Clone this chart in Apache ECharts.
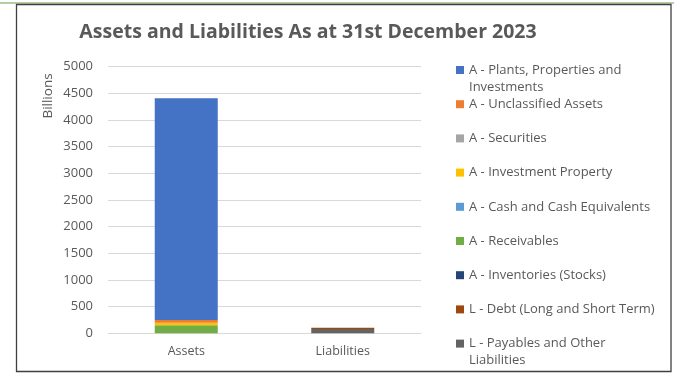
<!DOCTYPE html>
<html>
<head>
<meta charset="utf-8">
<script src="https://cdn.jsdelivr.net/npm/echarts@6/dist/echarts.min.js"></script>
<style>
  html, body { margin: 0; padding: 0; background: #ffffff; }
  #chart { width: 674px; height: 392px; }
</style>
</head>
<body>
<div id="chart"></div>
<script>
// Balance sheet categories
const categories = ['Assets', 'Liabilities'];

// Series names in legend order (top to bottom)
const seriesNames = [
  'A - Plants, Properties and Investments',
  'A - Unclassified Assets',
  'A - Securities',
  'A - Investment Property',
  'A - Cash and Cash Equivalents',
  'A - Receivables',
  'A - Inventories (Stocks)',
  'L - Debt (Long and Short Term)',
  'L - Payables and Other Liabilities'
];

// Values in billions: [Assets, Liabilities]
const plantsProperties = [4160, 0];
const unclassifiedAssets = [52, 0];
const securities = [0, 0];
const investmentProperty = [48, 0];
const cashEquivalents = [0, 0];
const receivables = [150, 0];
const inventories = [0, 0];
const debt = [0, 25];
const payables = [0, 80];

// Y axis ticks
const yMin = 0;
const yMax = 5000;
const yStep = 500;

const seriesValues = [
  plantsProperties, unclassifiedAssets, securities, investmentProperty,
  cashEquivalents, receivables, inventories, debt, payables
];

const palette = [
  '#4472C4', '#ED7D31', '#A5A5A5', '#FFC000', '#5B9BD5',
  '#70AD47', '#264478', '#9E480E', '#636363'
];

// Long legend labels: first line shown by the legend, the rest continues below
const wrapped = {
  'A - Plants, Properties and Investments': ['A - Plants, Properties and', 'Investments'],
  'L - Payables and Other Liabilities': ['L - Payables and Other', 'Liabilities']
};

const textColor = '#595959';
const fontFamily = '"Open Sans", Lato, sans-serif';

// Legend geometry
const legendLeft = 456;
const legendTop = 61.5;
const legendRow = 17;
const legendGap = 17.2;
const legendFont = 13;

// Stack from the last legend entry upward, so the first entry sits on top
const series = [];
for (let i = seriesNames.length - 1; i >= 0; i--) {
  series.push({
    name: seriesNames[i],
    type: 'bar',
    stack: 'total',
    barWidth: 63,
    itemStyle: { color: palette[i] },
    data: seriesValues[i]
  });
}

// Continuation lines of wrapped legend labels
const continuation = [];
seriesNames.forEach(function (name, i) {
  if (wrapped[name]) {
    const firstCenter = legendTop + legendRow / 2 + i * (legendRow + legendGap);
    continuation.push({
      type: 'text',
      x: legendLeft + 13,
      y: firstCenter + legendRow,
      style: {
        text: wrapped[name][1],
        fill: textColor,
        font: legendFont + 'px ' + fontFamily,
        align: 'left',
        verticalAlign: 'middle'
      },
      silent: true
    });
  }
});

const chart = echarts.init(document.getElementById('chart'), null, { renderer: 'canvas' });

chart.setOption({
  backgroundColor: '#ffffff',
  animation: false,
  textStyle: { fontFamily: fontFamily },
  title: {
    text: 'Assets and Liabilities As at 31st December 2023',
    left: 303,
    top: 17,
    textAlign: 'center',
    textStyle: {
      color: textColor,
      fontFamily: fontFamily,
      fontSize: 19.5,
      fontWeight: 'bold'
    }
  },
  legend: {
    orient: 'vertical',
    left: legendLeft,
    top: legendTop,
    padding: 0,
    itemGap: legendGap,
    itemWidth: 8,
    itemHeight: 8,
    icon: 'rect',
    data: seriesNames,
    formatter: function (name) { return wrapped[name] ? wrapped[name][0] : name; },
    textStyle: {
      color: textColor,
      fontFamily: fontFamily,
      fontSize: legendFont,
      lineHeight: legendRow
    }
  },
  grid: {
    left: 108,
    right: 253,
    top: 66.7,
    bottom: 58.7
  },
  xAxis: {
    type: 'category',
    data: categories,
    axisTick: { show: false },
    axisLine: { lineStyle: { color: '#D9D9D9', width: 1 } },
    axisLabel: {
      color: textColor,
      fontFamily: fontFamily,
      fontSize: 12.5,
      margin: 12
    }
  },
  yAxis: {
    type: 'value',
    min: yMin,
    max: yMax,
    interval: yStep,
    axisLine: { show: false },
    axisTick: { show: false },
    splitLine: { lineStyle: { color: '#D9D9D9', width: 1 } },
    axisLabel: {
      color: textColor,
      fontFamily: fontFamily,
      fontSize: 13,
      margin: 15,
      formatter: function (v) { return String(v); }
    }
  },
  graphic: [
    {
      type: 'rect',
      shape: { x: 0, y: 2.5, width: 674, height: 1 },
      style: { fill: '#6f9e4d' },
      silent: true
    },
    {
      type: 'rect',
      shape: { x: 16.5, y: 4.5, width: 654.5, height: 367 },
      style: { fill: 'none', stroke: '#3f3f3f', lineWidth: 1.3 },
      silent: true
    },
    {
      type: 'text',
      x: 48,
      y: 96,
      rotation: Math.PI / 2,
      style: {
        text: 'Billions',
        fill: textColor,
        font: '13.5px ' + fontFamily,
        align: 'center',
        verticalAlign: 'middle'
      },
      silent: true
    }
  ].concat(continuation),
  series: series
});
</script>
</body>
</html>
